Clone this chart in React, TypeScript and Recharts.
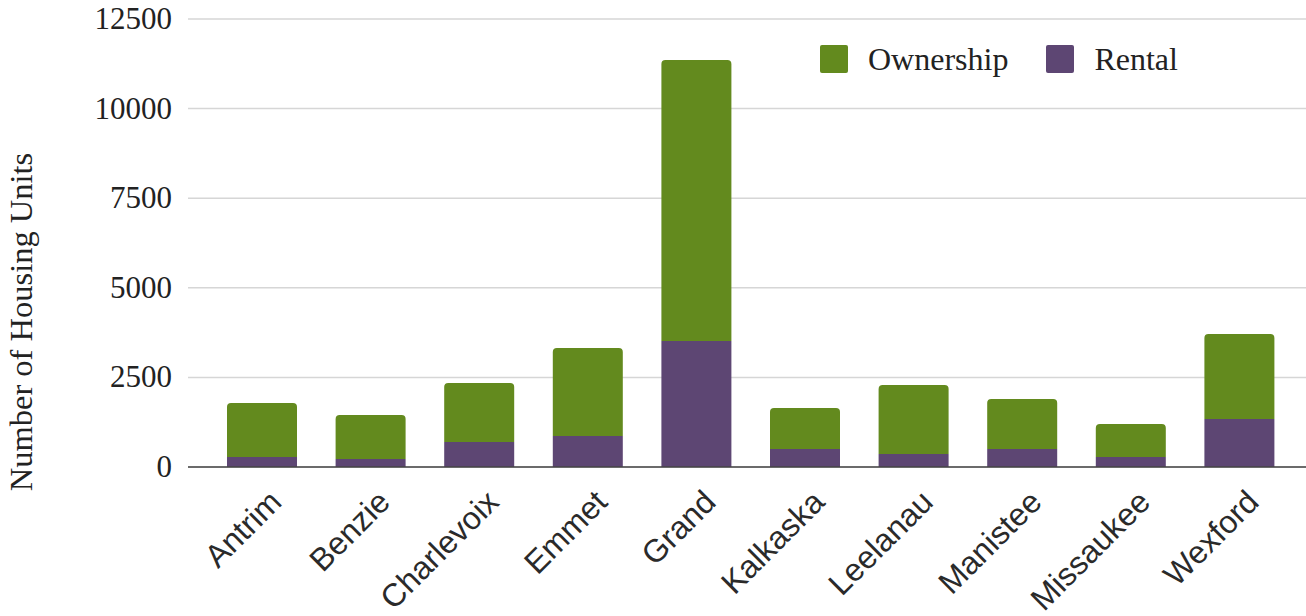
import React from "react";
import { BarChart, Bar, XAxis, YAxis, CartesianGrid, Label } from "recharts";

const counties = ["Antrim", "Benzie", "Charlevoix", "Emmet", "Grand", "Kalkaska", "Leelanau", "Manistee", "Missaukee", "Wexford"];
const rental = [280, 223, 698, 865, 3516, 502, 363, 502, 279, 1339];
const ownership = [1506, 1228, 1646, 2455, 7840, 1144, 1925, 1395, 921, 2372];
const yTicks = [0, 2500, 5000, 7500, 10000, 12500];

const GREEN = "#638a1e";
const PURPLE = "#5d4673";
const SERIF = "'Liberation Serif', 'Times New Roman', serif";
const SANS = "'Liberation Sans', Arial, sans-serif";

const data = counties.map((name, i) => ({ name, Rental: rental[i], Ownership: ownership[i] }));

const XTick = (props: any) => {
  const { x, y, payload } = props;
  return (
    <g transform={`translate(${x + 21},${y + 37})`}>
      <text x={0} y={0} textAnchor="end" transform="rotate(-45)" fill="#2a2a2a" fontSize={32} fontFamily={SANS}>
        {payload.value}
      </text>
    </g>
  );
};

const YTick = (props: any) => {
  const { x, y, payload } = props;
  return (
    <text x={x} y={y} dy={10} textAnchor="end" fill="#222" fontSize={31} fontFamily={SERIF}>
      {payload.value}
    </text>
  );
};

const YLabel = (props: any) => {
  const vb = props.viewBox || {};
  const cy = (vb.y ?? 19) + (vb.height ?? 448) / 2 + 79;
  return (
    <text transform={`translate(32,${cy}) rotate(-90)`} textAnchor="middle" fill="#222" fontSize={32.5} fontFamily={SERIF}>
      Number of Housing Units
    </text>
  );
};

const legendItems = [
  { label: "Ownership", color: GREEN },
  { label: "Rental", color: PURPLE },
];

const Legend2 = () => (
  <div style={{ position: "absolute", left: 820, top: 40, display: "flex", alignItems: "center", fontFamily: SERIF, fontSize: 32, color: "#222" }}>
    {legendItems.map((it, i) => (
      <div key={it.label} style={{ display: "flex", alignItems: "center", marginRight: i === 0 ? 38 : 0 }}>
        <div style={{ width: 28, height: 28, background: it.color, borderRadius: 2, marginRight: 20 }} />
        <span style={{ lineHeight: "38px" }}>{it.label}</span>
      </div>
    ))}
  </div>
);

export default function App() {
  return (
    <div style={{ position: "absolute", left: 0, top: 0, width: 1306, height: 616, background: "#fff" }}>
      <BarChart width={1306} height={616} data={data} margin={{ top: 19, right: 0, left: 0, bottom: 0 }} barSize={70}>
        <CartesianGrid horizontal vertical={false} stroke="#d6d6d6" strokeWidth={1.5} />
        <XAxis
          dataKey="name"
          height={149}
          tickLine={false}
          tickSize={0}
          tickMargin={0}
          axisLine={{ stroke: "#444", strokeWidth: 1.5 }}
          padding={{ left: 20, right: 12 }}
          tick={<XTick />}
          interval={0}
        />
        <YAxis
          width={188}
          domain={[0, 12500]}
          ticks={yTicks}
          tickLine={false}
          axisLine={false}
          tickSize={0}
          tickMargin={16}
          tick={<YTick />}
          interval={0}
        >
          <Label content={<YLabel />} />
        </YAxis>
        <Bar dataKey="Rental" stackId="a" fill={PURPLE} isAnimationActive={false} />
        <Bar dataKey="Ownership" stackId="a" fill={GREEN} radius={[4, 4, 0, 0]} isAnimationActive={false} />
      </BarChart>
      <Legend2 />
    </div>
  );
}
